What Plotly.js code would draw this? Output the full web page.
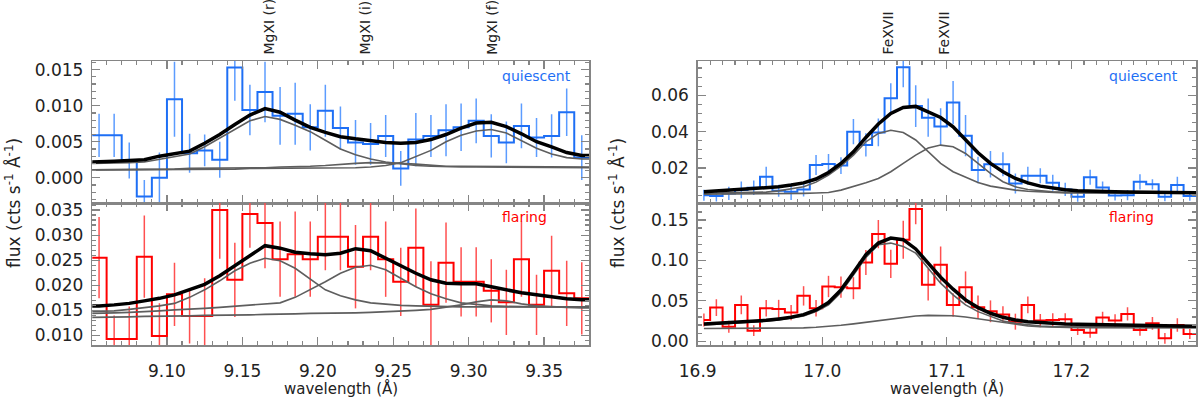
<!DOCTYPE html>
<html>
<head>
<meta charset="utf-8">
<script src="https://cdn.plot.ly/plotly-3.0.1.min.js"></script>
<style>
  body { margin: 0; background: #fff; }
  #chart { width: 1200px; height: 399px; }
</style>
</head>
<body>
<div id="chart"></div>
<script>
// Mg XI region: bin centres (Å)
const mgWave = [9.055, 9.065, 9.075, 9.085, 9.095, 9.105, 9.115, 9.125, 9.135, 9.145,
                9.155, 9.165, 9.175, 9.185, 9.195, 9.205, 9.215, 9.225, 9.235, 9.245,
                9.255, 9.265, 9.275, 9.285, 9.295, 9.305, 9.315, 9.325, 9.335, 9.345,
                9.355, 9.365, 9.375];

// quiescent spectrum + fit
const mgQuiet = [0.0059, 0.0059, 0.0024, -0.0026, 0.0000, 0.0109, 0.0034, 0.0038, 0.0025, 0.0153,
                 0.0094, 0.0119, 0.0086, 0.0089, 0.0070, 0.0093, 0.0069, 0.0049, 0.0047, 0.0058,
                 0.0013, 0.0053, 0.0058, 0.0066, 0.0070, 0.0079, 0.0058, 0.0049, 0.0072, 0.0056,
                 0.0058, 0.0091, 0.0028];
const mgQuietErr = [0.0030, 0.0030, 0.0025, 0.0023, 0.0035, 0.0052, 0.0027, 0.0022, 0.0025, 0.0046,
                    0.0035, 0.0042, 0.0040, 0.0043, 0.0032, 0.0036, 0.0030, 0.0031, 0.0029, 0.0029,
                    0.0024, 0.0037, 0.0029, 0.0036, 0.0033, 0.0031, 0.0030, 0.0029, 0.0031, 0.0027,
                    0.0030, 0.0033, 0.0031];
const mgQuietFit = [0.0022, 0.0023, 0.0024, 0.0025, 0.0030, 0.0033, 0.0037, 0.0048, 0.0060, 0.0074,
                    0.0087, 0.0096, 0.0091, 0.0080, 0.0070, 0.0063, 0.0057, 0.0054, 0.0051, 0.0049,
                    0.0048, 0.0049, 0.0053, 0.0060, 0.0069, 0.0076, 0.0077, 0.0071, 0.0061, 0.0050,
                    0.0043, 0.0035, 0.0031];
const mgQuietR = [0.0020, 0.0020, 0.0021, 0.0022, 0.0026, 0.0029, 0.0033, 0.0043, 0.0055, 0.0068,
                  0.0079, 0.0085, 0.0081, 0.0073, 0.0064, 0.0052, 0.0040, 0.0032, 0.0026, 0.0022,
                  0.0019, 0.0017, 0.0016, 0.0015, 0.0015, 0.0015, 0.0015, 0.0015, 0.0015, 0.0014,
                  0.0014, 0.0014, 0.0014];
const mgQuietI = [0.0011, 0.0011, 0.0011, 0.0012, 0.0012, 0.0012, 0.0013, 0.0013, 0.0013, 0.0014,
                  0.0014, 0.0014, 0.0015, 0.0015, 0.0016, 0.0017, 0.0019, 0.0020, 0.0021, 0.0021,
                  0.0020, 0.0019, 0.0017, 0.0016, 0.0016, 0.0016, 0.0016, 0.0015, 0.0015, 0.0015,
                  0.0015, 0.0015, 0.0015];
const mgQuietF = [0.0011, 0.0011, 0.0011, 0.0011, 0.0011, 0.0012, 0.0012, 0.0012, 0.0012, 0.0012,
                  0.0013, 0.0013, 0.0013, 0.0013, 0.0013, 0.0014, 0.0014, 0.0014, 0.0015, 0.0017,
                  0.0021, 0.0029, 0.0038, 0.0050, 0.0059, 0.0065, 0.0067, 0.0062, 0.0052, 0.0041,
                  0.0033, 0.0028, 0.0026];

// flaring spectrum + fit
const mgFlare = [0.0255, 0.0093, 0.0093, 0.0257, 0.0099, 0.0182, 0.0139, 0.0139, 0.0350, 0.0211,
                 0.0342, 0.0324, 0.0252, 0.0262, 0.0252, 0.0297, 0.0297, 0.0237, 0.0297, 0.0252,
                 0.0207, 0.0275, 0.0161, 0.0245, 0.0207, 0.0207, 0.0189, 0.0166, 0.0252, 0.0161,
                 0.0229, 0.0184, 0.0174];
const mgFlareErr = [0.0081, 0.0047, 0.0065, 0.0082, 0.0065, 0.0063, 0.0055, 0.0075, 0.0097, 0.0074,
                    0.0067, 0.0090, 0.0075, 0.0085, 0.0075, 0.0067, 0.0067, 0.0083, 0.0067, 0.0075,
                    0.0068, 0.0078, 0.0087, 0.0080, 0.0069, 0.0069, 0.0063, 0.0065, 0.0075, 0.0060,
                    0.0070, 0.0065, 0.0072];
const mgFlareFit = [0.0159, 0.0161, 0.0164, 0.0169, 0.0174, 0.0181, 0.0191, 0.0202, 0.0219, 0.0239,
                    0.0257, 0.0279, 0.0274, 0.0266, 0.0263, 0.0261, 0.0264, 0.0273, 0.0269, 0.0254,
                    0.0239, 0.0224, 0.0211, 0.0204, 0.0203, 0.0203, 0.0197, 0.0191, 0.0185, 0.0181,
                    0.0177, 0.0173, 0.0171];
const mgFlareR = [0.0148, 0.0149, 0.0152, 0.0155, 0.0159, 0.0164, 0.0176, 0.0191, 0.0209, 0.0229,
                  0.0244, 0.0254, 0.0249, 0.0234, 0.0212, 0.0191, 0.0179, 0.0171, 0.0165, 0.0162,
                  0.0160, 0.0159, 0.0158, 0.0158, 0.0157, 0.0157, 0.0157, 0.0157, 0.0157, 0.0157,
                  0.0157, 0.0157, 0.0157];
const mgFlareI = [0.0144, 0.0145, 0.0146, 0.0147, 0.0149, 0.0151, 0.0152, 0.0154, 0.0156, 0.0158,
                  0.0160, 0.0162, 0.0165, 0.0176, 0.0191, 0.0207, 0.0224, 0.0236, 0.0240, 0.0231,
                  0.0214, 0.0197, 0.0183, 0.0173, 0.0165, 0.0162, 0.0159, 0.0158, 0.0157, 0.0157,
                  0.0157, 0.0157, 0.0157];
const mgFlareF = [0.0136, 0.0137, 0.0137, 0.0138, 0.0138, 0.0139, 0.0139, 0.0140, 0.0140, 0.0141,
                  0.0141, 0.0142, 0.0142, 0.0143, 0.0144, 0.0144, 0.0145, 0.0145, 0.0146, 0.0147,
                  0.0148, 0.0150, 0.0152, 0.0156, 0.0161, 0.0167, 0.0171, 0.0169, 0.0163, 0.0159,
                  0.0157, 0.0156, 0.0155];

// Fe XVII region: bin centres (Å)
const feWave = [16.905, 16.915, 16.925, 16.935, 16.945, 16.955, 16.965, 16.975, 16.985, 16.995,
                17.005, 17.015, 17.025, 17.035, 17.045, 17.055, 17.065, 17.075, 17.085, 17.095,
                17.105, 17.115, 17.125, 17.135, 17.145, 17.155, 17.165, 17.175, 17.185, 17.195,
                17.205, 17.215, 17.225, 17.235, 17.245, 17.255, 17.265, 17.275, 17.285, 17.295];

const feQuiet = [0.0050, 0.0045, 0.0060, 0.0079, 0.0091, 0.0152, 0.0075, 0.0069, 0.0082, 0.0216,
                 0.0222, 0.0213, 0.0400, 0.0327, 0.0396, 0.0584, 0.0755, 0.0541, 0.0477, 0.0428,
                 0.0560, 0.0378, 0.0189, 0.0220, 0.0220, 0.0115, 0.0157, 0.0157, 0.0119, 0.0082,
                 0.0042, 0.0149, 0.0093, 0.0049, 0.0050, 0.0124, 0.0110, 0.0042, 0.0106, 0.0045];
const feQuietErr = [0.0030, 0.0030, 0.0037, 0.0046, 0.0040, 0.0055, 0.0033, 0.0046, 0.0039, 0.0055,
                    0.0055, 0.0046, 0.0070, 0.0064, 0.0077, 0.0083, 0.0110, 0.0115, 0.0105, 0.0101,
                    0.0119, 0.0114, 0.0073, 0.0073, 0.0066, 0.0055, 0.0050, 0.0041, 0.0044, 0.0037,
                    0.0028, 0.0041, 0.0033, 0.0028, 0.0028, 0.0042, 0.0028, 0.0025, 0.0046, 0.0025];
const feQuietFit = [0.0069, 0.0073, 0.0076, 0.0080, 0.0084, 0.0091, 0.0096, 0.0106, 0.0118, 0.0139,
                    0.0175, 0.0225, 0.0289, 0.0368, 0.0442, 0.0500, 0.0533, 0.0539, 0.0510, 0.0478,
                    0.0427, 0.0357, 0.0284, 0.0225, 0.0179, 0.0142, 0.0118, 0.0100, 0.0089, 0.0080,
                    0.0074, 0.0071, 0.0070, 0.0069, 0.0068, 0.0067, 0.0066, 0.0065, 0.0064, 0.0063];
const feQuietA = [0.0060, 0.0061, 0.0062, 0.0063, 0.0065, 0.0067, 0.0074, 0.0083, 0.0096, 0.0122,
                  0.0161, 0.0210, 0.0271, 0.0344, 0.0390, 0.0408, 0.0395, 0.0354, 0.0289, 0.0225,
                  0.0179, 0.0148, 0.0120, 0.0100, 0.0087, 0.0078, 0.0072, 0.0068, 0.0065, 0.0063,
                  0.0063, 0.0062, 0.0062, 0.0062, 0.0061, 0.0061, 0.0061, 0.0061, 0.0061, 0.0061];
const feQuietB = [0.0056, 0.0056, 0.0056, 0.0056, 0.0057, 0.0057, 0.0058, 0.0059, 0.0060, 0.0062,
                  0.0065, 0.0078, 0.0096, 0.0118, 0.0142, 0.0179, 0.0225, 0.0271, 0.0310, 0.0326,
                  0.0317, 0.0280, 0.0225, 0.0170, 0.0124, 0.0096, 0.0081, 0.0074, 0.0069, 0.0066,
                  0.0064, 0.0063, 0.0063, 0.0062, 0.0062, 0.0062, 0.0062, 0.0062, 0.0062, 0.0062];

const feFlare = [0.0263, 0.0416, 0.0180, 0.0449, 0.0131, 0.0408, 0.0400, 0.0354, 0.0561, 0.0408,
                 0.0677, 0.0669, 0.0656, 0.0974, 0.1326, 0.0958, 0.1256, 0.1636, 0.0700, 0.0946,
                 0.0449, 0.0669, 0.0420, 0.0370, 0.0330, 0.0242, 0.0449, 0.0255, 0.0263, 0.0271,
                 0.0139, 0.0106, 0.0292, 0.0255, 0.0338, 0.0139, 0.0222, 0.0036, 0.0201, 0.0090];
const feFlareErr = [0.0080, 0.0103, 0.0074, 0.0116, 0.0066, 0.0103, 0.0112, 0.0095, 0.0120, 0.0103,
                    0.0132, 0.0132, 0.0136, 0.0155, 0.0175, 0.0175, 0.0235, 0.0190, 0.0195, 0.0227,
                    0.0145, 0.0195, 0.0145, 0.0135, 0.0103, 0.0099, 0.0103, 0.0083, 0.0083, 0.0074,
                    0.0062, 0.0062, 0.0074, 0.0079, 0.0083, 0.0070, 0.0079, 0.0066, 0.0083, 0.0062];
const feFlareFit = [0.0213, 0.0222, 0.0230, 0.0238, 0.0247, 0.0259, 0.0276, 0.0296, 0.0329, 0.0387,
                    0.0478, 0.0635, 0.0850, 0.1070, 0.1214, 0.1277, 0.1256, 0.1142, 0.0966, 0.0792,
                    0.0644, 0.0511, 0.0416, 0.0346, 0.0296, 0.0263, 0.0242, 0.0230, 0.0222, 0.0213,
                    0.0209, 0.0205, 0.0200, 0.0198, 0.0196, 0.0194, 0.0192, 0.0190, 0.0188, 0.0186];
const feFlareA = [0.0201, 0.0209, 0.0218, 0.0226, 0.0234, 0.0247, 0.0263, 0.0284, 0.0313, 0.0366,
                  0.0449, 0.0602, 0.0821, 0.1036, 0.1193, 0.1214, 0.1173, 0.1090, 0.0904, 0.0718,
                  0.0573, 0.0449, 0.0366, 0.0304, 0.0250, 0.0221, 0.0201, 0.0188, 0.0180, 0.0178,
                  0.0176, 0.0175, 0.0174, 0.0174, 0.0173, 0.0173, 0.0172, 0.0172, 0.0172, 0.0172];
const feFlareB = [0.0158, 0.0158, 0.0158, 0.0159, 0.0159, 0.0160, 0.0161, 0.0162, 0.0165, 0.0172,
                  0.0182, 0.0197, 0.0215, 0.0235, 0.0257, 0.0279, 0.0298, 0.0312, 0.0320, 0.0322,
                  0.0316, 0.0300, 0.0278, 0.0250, 0.0225, 0.0205, 0.0190, 0.0180, 0.0174, 0.0170,
                  0.0168, 0.0168, 0.0167, 0.0167, 0.0166, 0.0166, 0.0166, 0.0165, 0.0165, 0.0165];

const mgLines = [9.168, 9.231, 9.315];
const mgLabels = ['MgXI (r)', 'MgXI (i)', 'MgXI (f)'];
const feLines = [17.052, 17.097];
const feLabels = ['FeXVII', 'FeXVII'];

const BLUE = '#1e6ff5', BLUE_ERR = '#5c9cff';
const RED = '#ff0000', RED_ERR = '#ff5050';
const GRAY = '#5e5e5e';
const FONT = 'DejaVu Sans, sans-serif';

// extend a series flat to the plot edges (the spectra run past the frame)
function extend(x, y, lo, hi) {
    let xs = x.slice(), ys = y.slice();
    if (lo !== null) { xs.unshift(lo); ys.unshift(y[0]); }
    if (hi !== null) { xs.push(hi); ys.push(y[y.length - 1]); }
    return {x: xs, y: ys};
}

function panelTraces(xa, ya, wave, data, err, fit, comps, color, errColor, lo, hi) {
    let traces = [];
    // error bars only, markers hidden
    traces.push({
        x: wave, y: data, xaxis: xa, yaxis: ya, type: 'scatter', mode: 'markers',
        marker: {size: 1, opacity: 0, color: errColor},
        error_y: {type: 'data', array: err, visible: true, width: 0, thickness: 1.5, color: errColor},
        hoverinfo: 'skip'
    });
    let st = extend(wave, data, lo, hi);
    traces.push({
        x: st.x, y: st.y, xaxis: xa, yaxis: ya, type: 'scatter', mode: 'lines',
        line: {shape: 'hvh', color: color, width: 2}
    });
    comps.forEach(function (c) {
        let ct = extend(wave, c, lo, hi);
        traces.push({
            x: ct.x, y: ct.y, xaxis: xa, yaxis: ya, type: 'scatter', mode: 'lines',
            line: {color: GRAY, width: 1.6}
        });
    });
    let ft = extend(wave, fit, lo, hi);
    traces.push({
        x: ft.x, y: ft.y, xaxis: xa, yaxis: ya, type: 'scatter', mode: 'lines',
        line: {color: '#000000', width: 3.5}
    });
    return traces;
}

let data = [].concat(
    panelTraces('x', 'y', mgWave, mgQuiet, mgQuietErr, mgQuietFit,
                [mgQuietR, mgQuietI, mgQuietF], BLUE, BLUE_ERR, 9.05, 9.38),
    panelTraces('x2', 'y2', mgWave, mgFlare, mgFlareErr, mgFlareFit,
                [mgFlareR, mgFlareI, mgFlareF], RED, RED_ERR, 9.05, 9.38),
    panelTraces('x3', 'y3', feWave, feQuiet, feQuietErr, feQuietFit,
                [feQuietA, feQuietB], BLUE, BLUE_ERR, null, 17.30),
    panelTraces('x4', 'y4', feWave, feFlare, feFlareErr, feFlareFit,
                [feFlareA, feFlareB], RED, RED_ERR, null, 17.30)
);

// common axis style (IDL-like frame: inward ticks on all sides)
function axis(extra) {
    let a = {
        showline: true, linecolor: '#858585', linewidth: 1.5, mirror: 'allticks',
        ticks: 'inside', ticklen: 8, tickwidth: 1.2, tickcolor: '#858585',
        showgrid: false, zeroline: false, autorange: false,
        tickfont: {family: FONT, size: 17, color: '#222'},
        ticklabelstandoff: 4
    };
    return Object.assign(a, extra);
}

const yTop = [0.4912, 0.8471], yBot = [0.1353, 0.4912];
const xLeft = [0.0769, 0.4911], xRight = [0.5814, 0.9967];
const minorX = {dtick: 0.01, ticklen: 4, tickcolor: '#858585', ticks: 'inside'};

let layout = {
    width: 1200, height: 399,
    margin: {l: 0, r: 0, t: 0, b: 0},
    paper_bgcolor: '#ffffff', plot_bgcolor: '#ffffff',
    showlegend: false,
    font: {family: FONT, color: '#222'},
    xaxis: axis({domain: xLeft, anchor: 'y', range: [9.0505, 9.38], dtick: 0.05, tick0: 9.0,
                 showticklabels: false, minor: minorX}),
    yaxis: axis({domain: yTop, anchor: 'x', range: [-0.0035, 0.0162], dtick: 0.005, tick0: 0,
                 tickformat: '.3f',
                 minor: {dtick: 0.001, ticklen: 4, tickcolor: '#858585', ticks: 'inside'}}),
    xaxis2: axis({domain: xLeft, anchor: 'y2', range: [9.0505, 9.38], dtick: 0.05, tick0: 9.0,
                  tickformat: '.2f', ticklabelstandoff: 10, minor: minorX}),
    yaxis2: axis({domain: yBot, anchor: 'x2', range: [0.0081, 0.0364], dtick: 0.005, tick0: 0,
                  tickformat: '.3f',
                  minor: {dtick: 0.001, ticklen: 4, tickcolor: '#858585', ticks: 'inside'}}),
    xaxis3: axis({domain: xRight, anchor: 'y3', range: [16.9, 17.3], dtick: 0.1, tick0: 16.9,
                  showticklabels: false, minor: minorX}),
    yaxis3: axis({domain: yTop, anchor: 'x3', range: [0.0007, 0.0789], dtick: 0.02, tick0: 0,
                  tickformat: '.2f',
                  minor: {dtick: 0.005, ticklen: 4, tickcolor: '#858585', ticks: 'inside'}}),
    xaxis4: axis({domain: xRight, anchor: 'y4', range: [16.9, 17.3], dtick: 0.1, tick0: 16.9,
                  tickformat: '.1f', ticklabelstandoff: 10, minor: minorX}),
    yaxis4: axis({domain: yBot, anchor: 'x4', range: [-0.0047, 0.171], dtick: 0.05, tick0: 0,
                  tickformat: '.2f',
                  minor: {dtick: 0.01, ticklen: 4, tickcolor: '#858585', ticks: 'inside'}}),
    annotations: []
};

function note(text, x, y, opts) {
    layout.annotations.push(Object.assign({
        text: text, x: x, y: y, xref: 'paper', yref: 'paper', showarrow: false,
        font: {family: FONT, size: 14, color: '#222'}
    }, opts));
}

// line identifications above the top panels
mgLines.forEach(function (w, i) {
    note(mgLabels[i], w, 0.857, {xref: 'x', textangle: -90, yanchor: 'bottom', xanchor: 'center',
                                 font: {family: FONT, size: 14, color: '#222'}});
});
feLines.forEach(function (w, i) {
    note(feLabels[i], w, 0.857, {xref: 'x3', textangle: -90, yanchor: 'bottom', xanchor: 'center',
                                 font: {family: FONT, size: 14, color: '#222'}});
});

// state labels
note('quiescent', 500 / 1200, 0.8095, {xanchor: 'left', yanchor: 'middle',
     font: {family: FONT, size: 14, color: BLUE}});
note('quiescent', 1107 / 1200, 0.8095, {xanchor: 'left', yanchor: 'middle',
     font: {family: FONT, size: 14, color: BLUE}});
note('flaring', 500 / 1200, 0.4561, {xanchor: 'left', yanchor: 'middle',
     font: {family: FONT, size: 14, color: RED}});
note('flaring', 1107 / 1200, 0.4561, {xanchor: 'left', yanchor: 'middle',
     font: {family: FONT, size: 14, color: RED}});

// axis titles
const yTitle = 'flux (cts s<sup>-1</sup> Å<sup>-1</sup>)';
note(yTitle, 13 / 1200, 0.4912, {textangle: -90, xanchor: 'center', yanchor: 'middle',
     font: {family: FONT, size: 17, color: '#222'}});
note(yTitle, 617 / 1200, 0.4912, {textangle: -90, xanchor: 'center', yanchor: 'middle',
     font: {family: FONT, size: 17, color: '#222'}});
note('wavelength (Å)', 341 / 1200, 0, {xanchor: 'center', yanchor: 'bottom', borderpad: 0,
     font: {family: FONT, size: 15, color: '#222'}});
note('wavelength (Å)', 947 / 1200, 0, {xanchor: 'center', yanchor: 'bottom', borderpad: 0,
     font: {family: FONT, size: 15, color: '#222'}});

Plotly.newPlot('chart', data, layout, {displayModeBar: false, staticPlot: true});
</script>
</body>
</html>
